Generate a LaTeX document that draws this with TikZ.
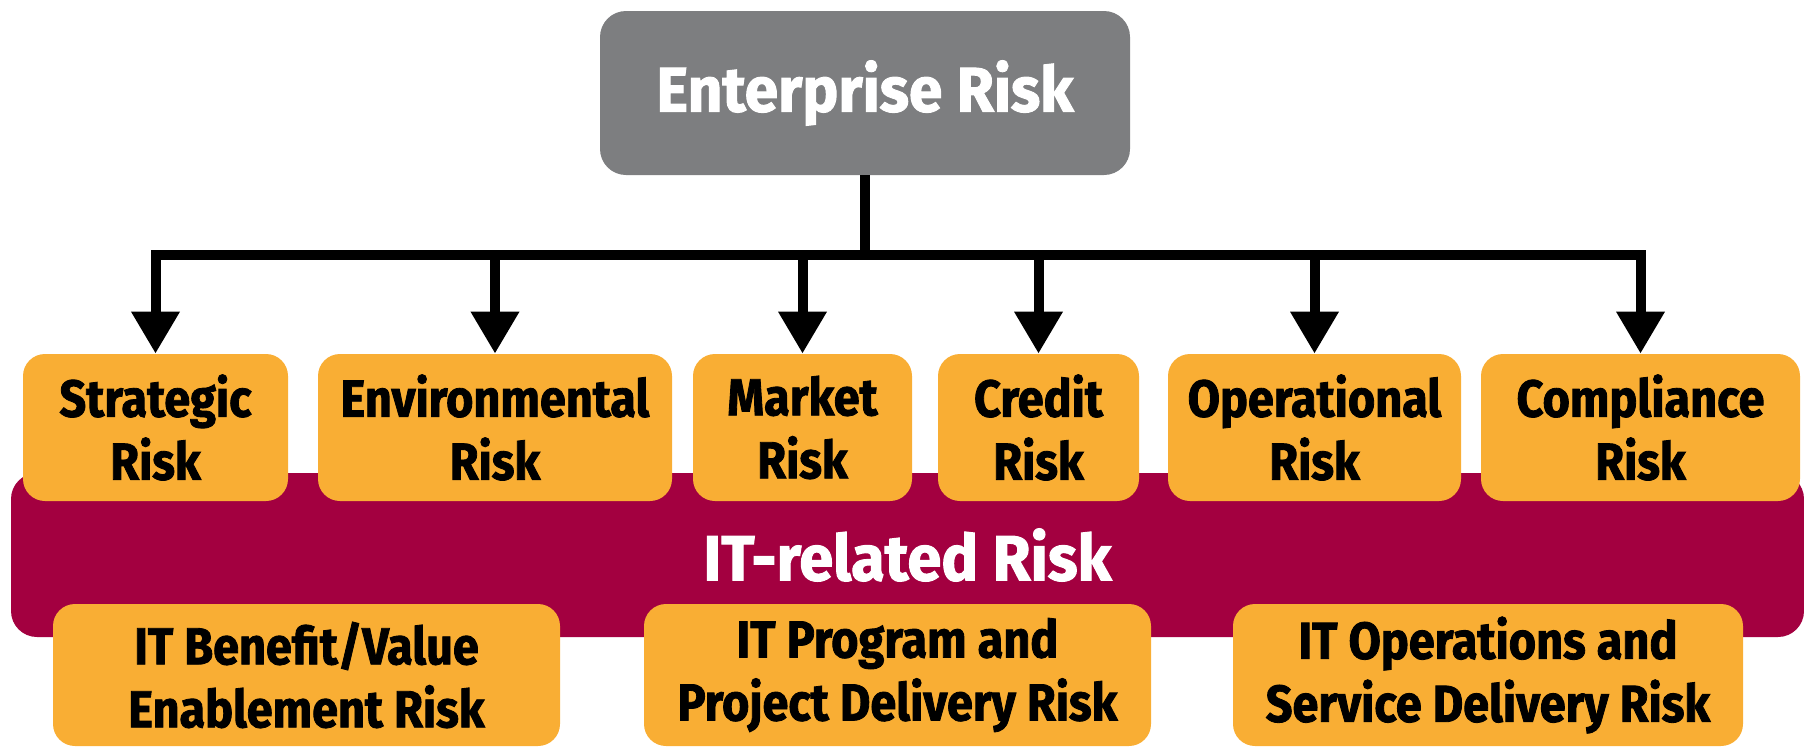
\documentclass[tikz,border=0pt]{standalone}
\usepackage{fontspec}
\setmainfont{Fira Sans}
\newfontfamily\riskfont[FakeStretch=0.9,FakeBold=1.6]{Fira Sans}
\newfontfamily\headfont[FakeStretch=0.96,FakeBold=1.6]{Fira Sans}
\usetikzlibrary{arrows.meta}

\definecolor{riskorange}{RGB}{249,174,52}
\definecolor{riskmaroon}{RGB}{163,0,64}
\definecolor{riskgray}{RGB}{125,126,128}

\tikzset{every picture/.style={line width=0.75pt}}
\tikzset{
  riskbox/.style={fill=riskorange, rounded corners=22pt, inner sep=0pt, align=center,
    font=\riskfont\bfseries\fontsize{52}{63}\selectfont},
  topbox/.style={fill=riskgray, rounded corners=26pt, inner sep=0pt, align=center, text=white,
    font=\headfont\bfseries\fontsize{63}{70}\selectfont},
  bandbox/.style={fill=riskmaroon, rounded corners=26pt, inner sep=0pt, text=white,
    font=\headfont\bfseries\fontsize{64}{70}\selectfont},
  flow/.style={line width=10pt, -{Triangle[width=46pt,length=42pt]}}
}

\begin{document}
\begin{tikzpicture}[x=1pt,y=-1pt]
    \useasboundingbox (0,0) rectangle (1804,747);
    \node[bandbox, minimum width=1793pt, minimum height=164pt] (itrisk) at (907.5,555) {IT-related Risk};
    \node[topbox, minimum width=530pt, minimum height=164pt] (ent) at (865,93) {Enterprise Risk};
    \node[riskbox, minimum width=265pt, minimum height=147pt] (strat) at (155.5,427.5) {Strategic\\Risk};
    \node[riskbox, minimum width=354pt, minimum height=147pt] (env) at (495,427.5) {Environmental\\Risk};
    \node[riskbox, minimum width=219pt, minimum height=147pt] (mkt) at (802.5,427.5) {Market\\Risk};
    \node[riskbox, minimum width=201pt, minimum height=147pt] (cred) at (1038.5,427.5) {Credit\\Risk};
    \node[riskbox, minimum width=293pt, minimum height=147pt] (oper) at (1314.5,427.5) {Operational\\Risk};
    \node[riskbox, minimum width=319pt, minimum height=147pt] (comp) at (1640.5,427.5) {Compliance\\Risk};
    \node[riskbox, minimum width=507pt, minimum height=142pt] (itben) at (306.5,675) {IT Benefit/Value\\Enablement Risk};
    \node[riskbox, minimum width=507pt, minimum height=142pt] (itprog) at (897.5,675) {IT Program and\\Project Delivery Risk};
    \node[riskbox, minimum width=510pt, minimum height=142pt] (itops) at (1488,675) {IT Operations and\\Service Delivery Risk};
    \coordinate (bar) at (865,255);
    \foreach \n in {strat,env,mkt,cred,oper,comp}
        \draw[flow] (ent.south) -- (bar) -| (\n.north);
\end{tikzpicture}
\end{document}
